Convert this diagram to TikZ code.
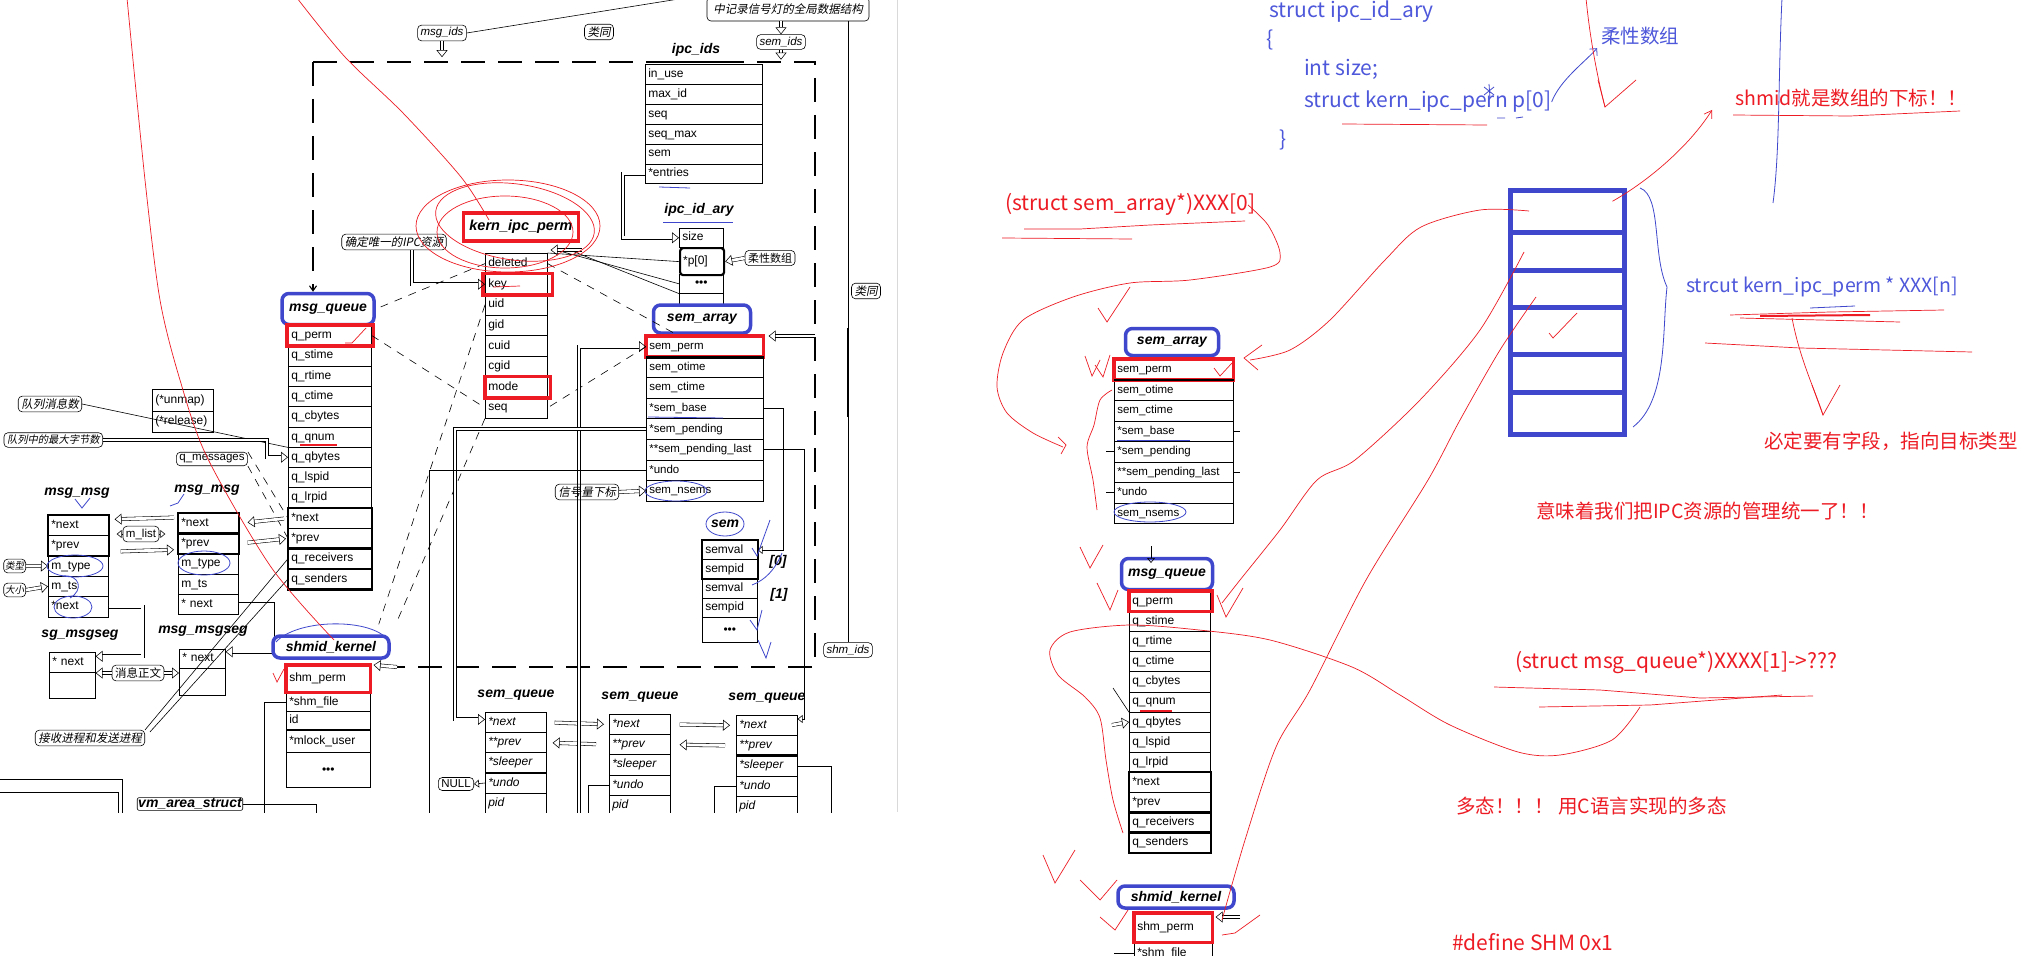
\documentclass[tikz,border=0pt]{standalone}
\usepackage{fontspec}
\setmainfont{Liberation Sans}
\newfontfamily\cjk{Noto Sans CJK SC}
\newfontfamily\cjkit{Noto Sans CJK SC}[FakeSlant=0.2]
\definecolor{penRed}{RGB}{237,28,36}
\definecolor{penBlue}{RGB}{63,72,204}
\definecolor{codeBlue}{RGB}{78,88,218}
\usetikzlibrary{arrows.meta,positioning,calc}

\begin{document}
\begin{tikzpicture}[x=1pt, y=-1pt,
  fld/.style={draw, line width=0.6pt, anchor=north west, inner xsep=3pt, inner ysep=0pt,
              text height=8.8pt, text depth=2.6pt, align=left, font=\fontsize{12}{13}\selectfont},
  sfld/.style={fld, font=\fontsize{11.5}{12}\selectfont},
  ifld/.style={fld, font=\fontsize{12}{13}\selectfont\itshape},
  lbl/.style={font=\fontsize{14}{15}\selectfont\bfseries\itshape, inner sep=1pt},
  tag/.style={draw, line width=0.6pt, rounded corners=4pt, inner xsep=3pt, inner ysep=2.5pt,
              font=\fontsize{11.5}{12}\selectfont},
  itag/.style={tag, font=\fontsize{11.5}{12}\selectfont\itshape},
  ctag/.style={tag, font=\fontsize{11.5}{12}\selectfont\cjkit},
  bluebox/.style={draw=penBlue, line width=3.5pt, rounded corners=7pt},
  redbox/.style={draw=penRed, line width=3.5pt},
  thickbox/.style={line width=2.2pt},
  wire/.style={line width=0.6pt},
  blk/.style={double=white, double distance=2.8pt, line width=0.55pt,
              -{Triangle[open, length=7pt, width=11pt]}},
  headline/.style={wire, -{Triangle[open, length=5pt, width=8pt]}},
  tdash/.style={wire, dash pattern=on 8pt off 7pt},
  cutframe/.style={line width=1.1pt, dash pattern=on 24pt off 13pt},
  redpen/.style={penRed, line width=0.7pt},
  bluepen/.style={penBlue, line width=0.8pt},
  note/.style={font=\fontsize{19.5}{22}\selectfont\cjk, inner sep=0pt, anchor=west},
  wnote/.style={note, font=\fontsize{21}{24}\selectfont\cjk}
]
\useasboundingbox (0,0) rectangle (2033,955);
\fill[white] (0,0) rectangle (2033,955);

% ---------- copied kernel diagram ----------
\begin{scope}
\clip (0,0) rectangle (897,812);

\node[ctag, minimum width=162pt, minimum height=24pt] (semglobal) at (788,9) {中记录信号灯的全局数据结构};
\node[itag] (msgids) at (442,33) {msg\_ids};
\node[ctag] (alike1) at (599,32) {类同};
\node[itag] (semids) at (781,42) {sem\_ids};
\coordinate (topcut) at (685,-2);
\draw[wire] (msgids.east) -- (topcut);
\draw[blk] (msgids.south) -- ++(0,16);
\draw[blk] (semglobal.south -| semids.north) -- (semids.north);
\draw[blk] (semids.south) -- ++(0,10);

% ipc_ids
\node[lbl] (ipcids) at (696,50) {ipc\_ids};
\draw[line width=2.6pt] (667,62) -- (731,62);
\foreach \nm [count=\i from 0] in {in\_use, max\_id, seq, seq\_max, sem, *entries}
  \node[fld, text width=111pt, minimum height=19.9pt] (ii\i) at (645,{64+19.9*\i}) {\nm};

% ipc_id_ary
\node[lbl] (ipcary) at (699,210) {ipc\_id\_ary};
\node[fld, text width=38pt, minimum height=19pt] (ary0) at (679,228) {size};
\node[fld, text width=38pt, minimum height=27pt, line width=2.2pt, rounded corners=3pt] (ary1) at (679,247) {*p[0]};
\node[fld, text width=38pt, minimum height=19pt, align=center] (ary2) at (679,274) {•••};
\draw[wire] (ary2.south west) -- ++(0,12) (ary2.south east) -- ++(0,12);
\draw[blk] (ii5.west) -- ++(-22,0) |- (ary0.west);
\node[tag, font=\fontsize{11}{12}\selectfont\cjk] (flex1) at (770,258) {柔性数组};
\draw[blk] (flex1.west) -- (ary1.east);

% kern_ipc_perm
\node[lbl, redbox, font=\fontsize{14.5}{15}\selectfont\bfseries\itshape, minimum width=115pt, minimum height=28pt] (kiplab) at (521,227) {kern\_ipc\_perm};
\foreach \nm [count=\i from 0] in {deleted, key, uid, gid, cuid, cgid, mode, seq}
  \node[fld, text width=56pt, minimum height=20.6pt] (kp\i) at (485,{253+20.6*\i}) {\nm};
\draw[redbox] ([xshift=-2pt]kp1.north west) rectangle ([xshift=5pt]kp1.south east);
\draw[redbox] (kp6.north west) rectangle ([xshift=3pt]kp6.south east);
\draw[wire] (ary1.west) -- (kp0.north east);
\draw[wire] (ary2.west) -- ([xshift=12pt,yshift=2pt]kp0.north east);
\draw[wire] (ary2.south west) -- ([xshift=22pt,yshift=3pt]kp0.north east);
\draw[blk] ([xshift=34pt,yshift=3pt]kp0.north east) -- ([xshift=3pt,yshift=3pt]kp0.north east);
\node[ctag] (unique) at (394,242) {确定唯一的IPC资源};
\draw[blk] ([xshift=18pt]unique.south) |- (kp1.west);

% dashed frame
\coordinate (fTL) at (313,62);
\coordinate (fTR) at (815,62);
\coordinate (fBR) at (815,667);
\coordinate (fBL) at (397,667);
\draw[cutframe] (fTL) -- (fTR) -- (fBR) -- (fBL);

% msg_queue
\node[lbl, bluebox, minimum width=92pt, minimum height=31pt] (mqlab) at (328,309) {msg\_queue};
\draw[cutframe, -{Straight Barb[length=5pt, width=7pt]}] (fTL) -- (fTL |- mqlab.north);
\foreach \nm [count=\i from 0] in {q\_perm, q\_stime, q\_rtime, q\_ctime, q\_cbytes, q\_qnum, q\_qbytes, q\_lspid, q\_lrpid, *next, *prev, q\_receivers, q\_senders}
  \node[fld, text width=77pt, minimum height=20.3pt] (mq\i) at (288,{325+20.3*\i}) {\nm};
\draw[thickbox] (mq9.north west) rectangle (mq10.south east);
\draw[thickbox] (mq11.north west) rectangle (mq11.south east);
\draw[thickbox] (mq12.north west) rectangle (mq12.south east);
\draw[redbox] ([xshift=-1pt]mq0.north west) rectangle ([xshift=2pt]mq0.south east);
\draw[penRed, line width=1.8pt] (300,445) -- (337,445);

% sem_array
\node[lbl, bluebox, minimum width=97pt, minimum height=28pt] (salab) at (702,319) {sem\_array};
\foreach \nm [count=\i from 0] in {sem\_perm, sem\_otime, sem\_ctime, *sem\_base, *sem\_pending, **sem\_pending\_last, *undo, sem\_nsems}
  \node[sfld, text width=111pt, minimum height=20.6pt] (sa\i) at (646,{336+20.6*\i}) {\nm};
\draw[redbox] (sa0.north west) rectangle (sa0.south east);
\draw[line width=2.6pt] (sa0.south west) -- (sa0.south east);
\draw[bluepen] (648,417) -- (723,418);
\draw[bluepen] (676,491) ellipse (31 and 10);
\draw[blk] (fTR |- sa0.north) -- ([xshift=5pt]sa0.north east);

% links between kern_ipc_perm and the ipc objects
\draw[tdash] (kp0.west) -- (mqlab.east);
\draw[tdash] (mq0.east) -- (kp7.west);
\draw[tdash] (kp0.east) -- ([xshift=-25pt]salab.south);
\draw[tdash] (sa0.west) -- (kp7.east);

% left side tags
\node[ctag] (qcount) at (50,404) {队列消息数};
\node[ctag, anchor=east, font=\fontsize{10.3}{11}\selectfont\cjkit] (maxbytes) at (103,440) {队列中的最大字节数};
\draw[wire] (qcount.east) -- (mq5.south west);
\draw[blk] (maxbytes.east) -| ([xshift=-21pt]mq6.west) -- (mq6.west);
\node[fld, text width=55pt, minimum height=21.5pt] (um0) at (152,389) {(*unmap)};
\node[fld, text width=55pt, minimum height=21.5pt] (um1) at (152,410.5) {(*release)};
\node[tag] (qmsg) at (212,459) {q\_messages};
\draw[tdash] (qmsg.north east) -- (mq9.west);
\draw[tdash] (qmsg.south east) -- (mq10.west);

% msg_msg chain
\node[lbl] (mm1lab) at (77,493) {msg\_msg};
\node[lbl] (mm2lab) at (207,490) {msg\_msg};
\foreach \nm [count=\i from 0] in {*next, *prev, m\_type, m\_ts, *next}
  \node[fld, text width=54pt, minimum height=20.3pt] (ma\i) at (48,{515+20.3*\i}) {\nm};
\foreach \nm [count=\i from 0] in {*next, *prev, m\_type, m\_ts, * next}
  \node[fld, text width=54pt, minimum height=20.2pt] (mb\i) at (178,{513+20.2*\i}) {\nm};
\draw[thickbox] (ma0.north west) rectangle (ma1.south east);
\draw[thickbox] (mb0.north west) rectangle (mb0.south east);
\draw[thickbox] (mb1.north west) rectangle (mb1.south east);
\node[tag] (mlist) at (141,534) {m\_list};
\draw[headline] (mlist.west) -- ++(-6,0);
\draw[headline] (mlist.east) -- ++(6,0);
\draw[blk, shorten <=4pt, shorten >=6pt] ([yshift=6pt]mb0.west) -- ([yshift=6pt]ma0.east);
\draw[blk, shorten <=12pt, shorten >=4pt] ([yshift=-6pt]ma1.east) -- ([yshift=-6pt]mb1.west);
\draw[blk, shorten <=4pt, shorten >=9pt] (mq9.west) -- (mb0.east);
\draw[blk, shorten <=9pt, shorten >=2pt] (mb1.east) -- (mq10.west);
\node[ctag, anchor=east, inner xsep=1.5pt, font=\fontsize{9.5}{10}\selectfont\cjkit] (typetag) at (26,566) {类型};
\draw[blk] (typetag.east) -- (ma2.west);
\node[ctag, anchor=east, inner xsep=1.5pt, font=\fontsize{9.5}{10}\selectfont\cjkit] (sizetag) at (26,590) {大小};
\draw[blk] (sizetag.east) -- (ma3.west);
\draw[bluepen] (75,566) ellipse (28 and 11);
\draw[bluepen] (62,576) .. controls (80,574) and (84,590) .. (70,598);
\draw[bluepen] (73,607) ellipse (19 and 11);
\draw[bluepen] (204,563) ellipse (26 and 12);
\draw[bluepen] (75,499) -- (82,508) -- (90,498);
\draw[bluepen] (170,506) -- (178,503) -- (184,494);

% msgseg
\node[lbl] (sglab) at (80,635) {sg\_msgseg};
\node[fld, text width=40pt, minimum height=20pt] (sg0) at (49,652) {* next};
\node[fld, text width=40pt, minimum height=26pt] (sg1) at (49,672) {};
\node[lbl] (mglab) at (203,631) {msg\_msgseg};
\node[fld, text width=40pt, minimum height=19pt] (mg0) at (179,649) {* next};
\node[fld, text width=40pt, minimum height=27pt] (mg1) at (179,668) {};
\draw[blk] (ma4.east) -- ++(34,0) |- ([yshift=6pt]sg0.east);
\node[tag, font=\fontsize{11.5}{12}\selectfont\cjk] (body) at (138,673) {消息正文};
\draw[blk] (body.west) -- (body.west -| sg1.east);
\draw[blk] (body.east) -- (body.east -| mg1.west);
\draw[blk] (mb4.east) -- ++(34,0) |- ([yshift=7pt]mg0.east);
\node[ctag] (recv) at (90,738) {接收进程和发送进程};
\draw[wire] (recv.north east) -- (mq11.west);
\draw[wire] ([xshift=5pt,yshift=-2pt]recv.north east) -- (mq12.west);

% shmid_kernel
\node[lbl, bluebox, minimum width=116pt, minimum height=22pt] (shlab) at (331,647) {shmid\_kernel};
\node[fld, text width=78pt, minimum height=27pt] (sh0) at (286,665) {shm\_perm};
\node[fld, text width=78pt, minimum height=18pt, below=0pt of sh0] (sh1) {*shm\_file};
\node[fld, text width=78pt, minimum height=18pt, below=0pt of sh1] (sh2) {id};
\node[fld, text width=78pt, minimum height=22pt, below=0pt of sh2] (sh3) {*mlock\_user};
\node[fld, text width=78pt, minimum height=35pt, align=center, below=0pt of sh3] (sh4) {•••};
\draw[redbox] (sh0.north west) rectangle (sh0.south east);
\draw[blk] (fBL) -- ([xshift=3pt]sh0.north east);
\draw[wire] (sh1.west) -- ++(-22,0) -- ++(0,130);
\draw[tdash] (kp2.west) -- ([xshift=-12pt,yshift=10pt]shlab.north east);
\draw[tdash] (kp7.south west) -- ([xshift=5pt,yshift=10pt]shlab.north east);
\node[tag, lbl, rounded corners=2pt] (vma) at (190,804) {vm\_area\_struct};
\draw[wire] (vma.east) -- ++(73,0) -- ++(0,30);
\draw[wire] (0,779) -| (122,830);
\draw[wire] (0,792) -| (118,830);
\draw[bluepen] (276,642) .. controls (296,620) and (362,618) .. (384,636);
\draw[redpen] (273,673) -- (277,682) -- (284,669);

% sem_queue list
\foreach \x/\y/\k in {485/712/a, 609/714/b, 736/715/c} {
  \node[lbl] (sq\k lab) at ({\x+31},{\y-17}) {sem\_queue};
  \foreach \nm [count=\i from 0] in {*next, **prev, *sleeper, *undo, pid}
    \node[ifld, text width=55pt, minimum height=20.2pt] (sq\k\i) at (\x,{\y+20.2*\i}) {\nm};
}
\draw[thickbox] (sqa3.north west) -- (sqa3.north east);
\draw[thickbox] (sqc2.north west) -- (sqc2.north east);
\draw[blk, shorten <=8pt, shorten >=5pt] (sqa0.east) -- (sqb0.west);
\draw[blk, shorten <=13pt, shorten >=6pt] (sqb1.west) -- (sqa1.east);
\draw[blk, shorten <=9pt, shorten >=6pt] (sqb0.east) -- (sqc0.west);
\draw[blk, shorten <=11pt, shorten >=9pt] (sqc1.west) -- (sqb1.east);
\node[tag] (null) at (456,784) {NULL};
\draw[headline] (sqa3.west) -- (null.east);
\draw[wire] (sqb3.west) -- ++(-21,0) -- ++(0,40);
\draw[wire] (sqc3.west) -- ++(-22,0) -- ++(0,40);
\draw[wire] (sqc2.east) -- ++(34,0) -- ++(0,60);

% sem_array fields to the lists
\draw[blk] (579,830) |- (sa0.west);
\draw[blk] (sa4.west) -| ([xshift=-30pt,yshift=3pt]sqa0.west) -- ([yshift=3pt]sqa0.west);
\draw[wire] (sa6.west) -| (429,830);
\draw[headline] (sa5.east) -| ([xshift=7pt,yshift=-4pt]sqc0.north east) -- ([yshift=-4pt]sqc0.north east);
\node[ctag] (semidx) at (587,492) {信号量下标};
\draw[blk] (semidx.east) -- (sa7.west);

% sem
\node[lbl] (semlab) at (725,524) {sem};
\draw[bluepen] (725,524) ellipse (19 and 12);
\foreach \nm [count=\i from 0] in {semval, sempid, semval, sempid}
  \node[fld, text width=49pt, minimum height=19.3pt] (sm\i) at (702,{540+19.3*\i}) {\nm};
\node[fld, text width=49pt, minimum height=25pt, align=center] (sm4) at (702,617.2) {•••};
\draw[thickbox] (sm0.north west) rectangle (sm1.south east);
\draw[headline] (sa3.east) -| ([xshift=26pt]sm0.east) -- (sm0.east);
\node[lbl] (idx0) at (778,562) {[0]};
\node[lbl] (idx1) at (779,595) {[1]};
\draw[bluepen] (752,548) -- (757,556) -- (770,520);
\draw[bluepen] (752,585) .. controls (765,580) and (775,570) .. (782,553);
\draw[bluepen] (750,620) -- (757,630) -- (762,610);
\draw[bluepen] (758,640) -- (766,658) -- (771,642);

% right column of the copied diagram
\node[ctag] (alike2) at (866,291) {类同};
\node[itag] (shmids) at (848,650) {shm\_ids};
\draw[wire] (semglobal.south -| shmids.north) -- (shmids.north);
\draw[line width=2.2pt] (848,328) -- (848,417);

% pen marks on the copied diagram
\draw[redpen] plot[smooth] coordinates {(127,-2) (145,180) (160,300) (180,380) (207,457) (271,567) (334,640)};
\draw[redpen] plot[smooth] coordinates {(297,-2) (345,57) (403,113) (461,177) (489,220)};
\draw[redpen] (508,226) ellipse (92 and 46);
\draw[redpen, rotate around={-8:(515,222)}] (515,222) ellipse (80 and 38);
\draw[redpen] (505,232) ellipse (68 and 36);
\draw[redpen] (493,287) -- (520,286);
\draw[redpen] (345,343) -- (352,343) -- (366,328);
\draw[bluepen] (659,187) -- (690,188);
\draw[bluepen] (663,222) -- (733,222);
\end{scope}
\draw[black!15, line width=1pt] (897,0) -- (897,812);

% ---------- notes on the right ----------
\node[wnote, text=codeBlue] (code1) at (1269,12) {struct ipc\_id\_ary};
\node[wnote, text=codeBlue] (code2) at (1266,40) {\{};
\node[wnote, text=codeBlue] (code3) at (1304,69) {int size;};
\node[wnote, text=codeBlue] (code4) at (1304,102) {struct kern\_ipc\_pern p[0]};
\node[wnote, text=codeBlue] (code5) at (1279,140) {\}};
\draw[redpen] (1342,124) -- (1487,125);
\draw[bluepen] (1497,118) -- (1505,118) (1516,118) -- (1523,117);
\draw[bluepen] (1484,87) -- (1494,95) (1494,87) -- (1484,95) (1489,84) -- (1490,98);
\node[note, text=codeBlue] (flex2) at (1601,36) {柔性数组};
\draw[bluepen, -{Straight Barb[length=5pt]}] (code4.east) .. controls (1560,80) and (1585,62) .. ([xshift=-4pt,yshift=-3pt]flex2.south west);
\draw[redpen] (1586,-2) .. controls (1590,40) and (1598,80) .. (1605,107);
\draw[redpen] (1598,80) -- (1605,107) -- (1636,80);
\draw[bluepen] (1782,-2) .. controls (1778,80) and (1780,150) .. (1773,203);
\node[note, text=penRed] (shmidnote) at (1735,98) {shmid就是数组的下标！！};
\draw[redpen] (1733,115) -- (1850,116) -- (1960,111);

% id array
\foreach \top/\h [count=\i from 0] in {188/42, 230/38, 268/37, 305/47, 352/38, 390/42}
  \node[draw=penBlue, line width=4.5pt, anchor=north west, minimum width=114pt, minimum height=\h pt, inner sep=0pt] (cell\i) at (1508,\top) {};
\draw[redpen, -{Straight Barb[length=7pt, width=9pt]}] ([xshift=-14pt,yshift=10pt]cell0.east) .. controls (1650,180) and (1690,145) .. (1712,110);
\draw[redpen] (1549,333) -- (1553,338) -- (1577,313);
\draw[bluepen] (1640,188) .. controls (1662,196) and (1652,255) .. (1667,287) .. controls (1662,330) and (1668,400) .. (1633,427);
\node[note, text=codeBlue] (xxxn) at (1686,287) {strcut kern\_ipc\_perm * XXX[n]};
\draw[redpen] (1730,315) -- (1830,312) -- (1944,310);
\draw[redpen] (1740,318) -- (1900,322);
\draw[penRed, line width=2pt] (1760,316) -- (1870,315);
\draw[bluepen] (1810,308) -- (1855,306);
\draw[redpen] (1705,343) -- (1800,348) -- (1972,352);
\draw[redpen] (1792,318) .. controls (1800,360) and (1815,390) .. (1823,415);
\draw[redpen] (1812,385) -- (1823,415) -- (1840,385);
\node[note, text=penRed] (mustfield) at (1764,441) {必定要有字段，指向目标类型};

% sem_array copy
\node[wnote, text=penRed] (castsem) at (1005,204) {(struct sem\_array*)XXX[0]};
\draw[redpen] (1024,229) -- (1080,229) -- (1150,225) -- (1245,221);
\draw[redpen] (1002,238) -- (1132,239);
\draw[redpen] plot[smooth] coordinates {(1248,205) (1268,225) (1280,253) (1270,267) (1190,280) (1130,283) (1073,297) (1023,320) (1003,353) (997,387) (1007,413) (1033,433) (1063,447)};
\draw[redpen] (1058,437) -- (1066,445) -- (1061,454);
\draw[redpen] (1130,287) -- (1107,322) -- (1098,308);
\node[lbl, bluebox, minimum width=93pt, minimum height=27pt] (rsalab) at (1172,342) {sem\_array};
\foreach \nm [count=\i from 0] in {sem\_perm, sem\_otime, sem\_ctime, *sem\_base, *sem\_pending, **sem\_pending\_last, *undo, sem\_nsems}
  \node[sfld, text width=113pt, minimum height=20.5pt] (rsa\i) at (1114,{359+20.5*\i}) {\nm};
\draw[redbox] (rsa0.north west) rectangle (rsa0.south east);
\draw[line width=2.6pt] (rsa0.south west) -- (rsa0.south east);
\draw[bluepen] (1117,440) -- (1190,440);
\draw[bluepen] (1150,512) ellipse (36 and 10);
\draw[wire] (rsa3.east) -- ++(6,0) (rsa5.east) -- ++(6,0);
\draw[wire] (rsa4.west) -- ++(-8,0) (rsa6.west) -- ++(-8,0);
\draw[redpen] (1214,368) -- (1220,376) -- (1232,363);
\draw[redpen] (1085,356) -- (1092,376) -- (1100,360);
\draw[redpen] (1095,365) -- (1103,377) -- (1110,355);
\draw[redpen] plot[smooth] coordinates {(1112,390) (1100,400) (1094,425) (1087,447) (1093,480) (1097,510)};

% msg_queue copy
\node[lbl, bluebox, minimum width=91pt, minimum height=31pt] (rmqlab) at (1167,574) {msg\_queue};
\foreach \nm [count=\i from 0] in {q\_perm, q\_stime, q\_rtime, q\_ctime, q\_cbytes, q\_qnum, q\_qbytes, q\_lspid, q\_lrpid, *next, *prev, q\_receivers, q\_senders}
  \node[fld, text width=75pt, minimum height=20.1pt] (rmq\i) at (1129,{591+20.1*\i}) {\nm};
\draw[thickbox] (rmq9.north west) rectangle (rmq10.south east);
\draw[thickbox] (rmq11.north west) rectangle (rmq11.south east);
\draw[thickbox] (rmq12.north west) rectangle (rmq12.south east);
\draw[redbox] (rmq0.north west) rectangle ([xshift=2pt]rmq0.south east);
\draw[penRed, line width=1.8pt] (1140,711) -- (1172,711);
\draw[headline] (1151,546) -- (1151,563);
\draw[wire] (1113,688) -- (rmq5.south west);
\draw[blk] (1112,725) -- (rmq6.west);

% shmid_kernel copy
\node[lbl, bluebox, minimum width=116pt, minimum height=22pt] (rshlab) at (1176,897) {shmid\_kernel};
\node[fld, text width=72pt, minimum height=29pt] (rsh0) at (1134,913) {shm\_perm};
\node[fld, text width=72pt, minimum height=20pt, below=0pt of rsh0] (rsh1) {*shm\_file};
\draw[redbox] (rsh0.north west) rectangle (rsh0.south east);
\draw[blk] (1240,917) -- ([xshift=3pt,yshift=-4pt]rsh0.north east);
\draw[wire] (rsh1.west) -- ++(-20,0);

% pen strokes from the array to the copies
\draw[redpen] plot[smooth] coordinates {(1529,211) (1480,210) (1421,227) (1385,260) (1330,320) (1290,350) (1250,360)};
\draw[redpen] (1262,345) -- (1244,358) -- (1258,370);
\draw[redpen] plot[smooth] coordinates {(1524,252) (1480,330) (1420,400) (1355,460) (1317,480) (1280,530) (1240,580) (1222,603)};
\draw[redpen] plot[smooth] coordinates {(1536,297) (1500,350) (1460,420) (1428,480) (1366,580) (1310,690) (1276,747) (1245,840) (1222,920)};
\draw[redpen] (1080,547) -- (1090,568) -- (1103,545);
\draw[redpen] (1097,583) -- (1110,610) -- (1118,590);
\draw[redpen] (1217,595) -- (1226,617) -- (1243,588);
\draw[redpen] (1043,855) -- (1055,883) -- (1075,850);
\draw[redpen] (1080,880) -- (1100,900) -- (1117,880);
\draw[redpen] (1100,917) -- (1115,930) -- (1128,910);
\draw[redpen] (1222,935) -- (1235,933) -- (1260,915);

\node[note, text=penRed] (unify) at (1536,511) {意味着我们把IPC资源的管理统一了！！};
\node[wnote, text=penRed] (castmsg) at (1515,663) {(struct msg\_queue*)XXXX[1]->???};
\draw[redpen] (1494,687) -- (1600,690) -- (1700,698) -- (1813,696);
\draw[redpen] (1539,707) -- (1650,705) -- (1782,695);
\draw[redpen] plot[smooth] coordinates {(1640,707) (1612,740) (1560,755) (1518,752) (1450,725) (1400,695) (1352,667) (1270,640) (1199,630) (1130,625) (1070,632) (1050,650) (1058,675) (1085,697) (1100,718) (1106,760) (1113,800) (1123,833)};
\node[note, text=penRed] (poly) at (1456,806) {多态！！！ 用C语言实现的多态};
\node[wnote, text=penRed] (define) at (1452,942) {\#define SHM 0x1};
\end{tikzpicture}
\end{document}
